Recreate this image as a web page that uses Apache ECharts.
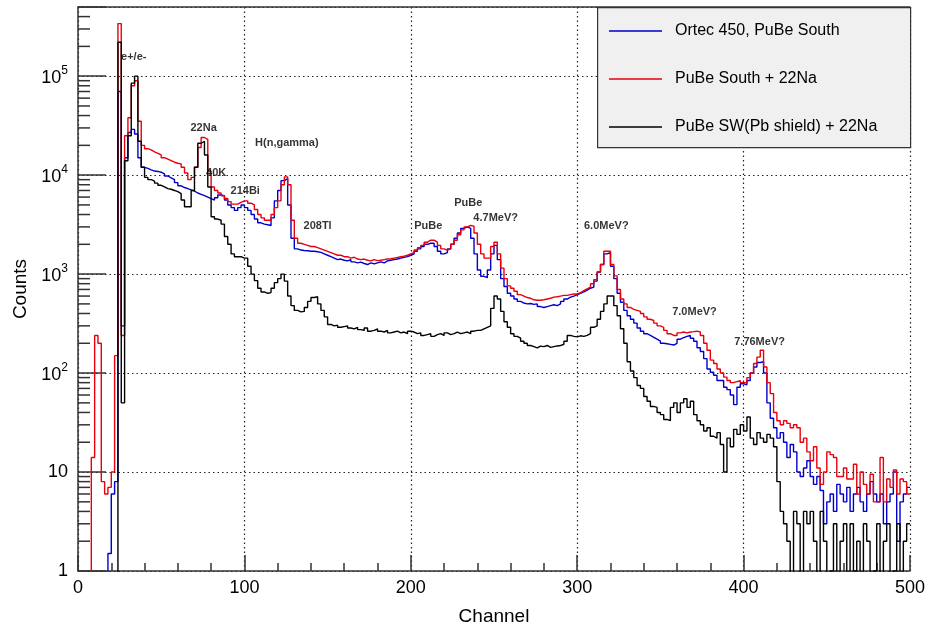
<!DOCTYPE html>
<html>
<head>
<meta charset="utf-8">
<script src="https://cdn.jsdelivr.net/npm/echarts@6/dist/echarts.min.js"></script>
<style>
html, body { margin: 0; padding: 0; background: #fff; }
#chart { width: 927px; height: 624px; }
</style>
</head>
<body>
<div id="chart"></div>
<script>
// histogram bins: 2 channels wide, starting at channel 0
var binWidth = 2;
var seriesNames = ['Ortec 450, PuBe South', 'PuBe South + 22Na', 'PuBe SW(Pb shield) + 22Na'];

var blueCounts = [
	0, 0, 0, 0, 0, 0, 0, 0, 0, 1.5,
	6, 8, 7e4, 300, 1.5e4, 2.7e4, 2.9e4, 2.6e4, 1.5e4, 1.2e4,
	1.17e4, 1.13e4, 1.1e4, 1.09e4, 1.07e4, 1.03e4, 9.8e3, 9.4e3, 9e3, 8.4e3,
	7.8e3, 7.5e3, 7.3e3, 7.1e3, 6.9e3, 6.6e3, 6.4e3, 6.2e3, 6e3, 5.8e3,
	5.6e3, 5.9e3, 6.3e3, 6.2e3, 5.6e3, 5e3, 4.7e3, 4.4e3, 4.7e3, 5e3,
	4.7e3, 4.4e3, 4e3, 3.6e3, 3.3e3, 3.2e3, 3.15e3, 3.1e3, 3.7e3, 5.5e3,
	7e3, 8.8e3, 9.2e3, 5e3, 2.3e3, 1.8e3, 1.75e3, 1.73e3, 1.72e3, 1.7e3,
	1.7e3, 1.68e3, 1.66e3, 1.6e3, 1.55e3, 1.5e3, 1.45e3, 1.4e3, 1.42e3, 1.38e3,
	1.36e3, 1.4e3, 1.33e3, 1.3e3, 1.32e3, 1.28e3, 1.25e3, 1.3e3, 1.27e3, 1.3e3,
	1.33e3, 1.3e3, 1.36e3, 1.38e3, 1.4e3, 1.42e3, 1.45e3, 1.48e3, 1.5e3, 1.55e3,
	1.6e3, 1.7e3, 1.8e3, 1.9e3, 2e3, 2.05e3, 2.05e3, 1.9e3, 1.7e3, 1.6e3,
	1.65e3, 1.8e3, 2e3, 2.3e3, 2.6e3, 2.9e3, 3e3, 2.9e3, 2.3e3, 1.6e3,
	1.1e3, 950, 920, 1.1e3, 1.6e3, 1.95e3, 1.4e3, 900, 750, 640,
	600, 560, 530, 510, 500, 505, 495, 500, 470, 460,
	470, 480, 490, 480, 500, 530, 560, 585, 600, 620,
	640, 660, 690, 720, 740, 850, 1.05e3, 1.25e3, 1.6e3, 1.65e3,
	1.2e3, 900, 640, 520, 430, 380, 350, 320, 285, 265,
	250, 240, 230, 220, 210, 200, 198, 195, 192, 200,
	220, 228, 235, 240, 225, 210, 180, 165, 140, 110,
	102, 95, 84, 84, 72, 68, 60, 48, 72, 78,
	76, 84, 100, 115, 128, 130, 100, 50, 35, 28,
	22, 25, 20, 14, 19, 16, 10, 9, 11, 13,
	9, 7.5, 9, 6.5, 3, 5, 6, 4, 7.5, 6,
	5, 7, 4, 6, 7, 5, 4, 6, 8, 6,
	5, 6, 3, 5, 6, 10, 2, 5, 6, 7
];

var redCounts = [
	0, 0, 0, 0, 14, 240, 200, 8, 6, 7,
	10, 150, 3.4e5, 240, 2.5e4, 3.8e4, 8e4, 9e4, 3.5e4, 2e4,
	1.85e4, 1.8e4, 1.72e4, 1.66e4, 1.6e4, 1.5e4, 1.45e4, 1.4e4, 1.35e4, 1.32e4,
	1.3e4, 1.2e4, 1.05e4, 9e3, 9.5e3, 1.2e4, 1.9e4, 2.4e4, 2.3e4, 1.1e4,
	7.6e3, 7e3, 6.6e3, 6.2e3, 5.8e3, 5.4e3, 5.1e3, 5.1e3, 5.3e3, 5.5e3,
	5.5e3, 5.2e3, 5e3, 4.5e3, 4e3, 3.7e3, 3.5e3, 3.5e3, 4e3, 4.7e3,
	5.5e3, 8e3, 9.6e3, 8e3, 3.5e3, 2.3e3, 2.05e3, 2e3, 1.95e3, 1.9e3,
	1.9e3, 1.85e3, 1.8e3, 1.75e3, 1.7e3, 1.65e3, 1.6e3, 1.55e3, 1.55e3, 1.5e3,
	1.5e3, 1.45e3, 1.48e3, 1.42e3, 1.4e3, 1.42e3, 1.38e3, 1.36e3, 1.4e3, 1.37e3,
	1.38e3, 1.4e3, 1.42e3, 1.43e3, 1.45e3, 1.47e3, 1.5e3, 1.52e3, 1.55e3, 1.6e3,
	1.65e3, 1.75e3, 1.85e3, 1.95e3, 2.1e3, 2.2e3, 2.2e3, 2.1e3, 1.95e3, 1.8e3,
	1.75e3, 1.8e3, 2e3, 2.2e3, 2.5e3, 2.8e3, 3e3, 3.1e3, 3.05e3, 2.6e3,
	2e3, 1.6e3, 1.45e3, 1.45e3, 1.9e3, 2.1e3, 1.6e3, 1.15e3, 900, 760,
	720, 670, 620, 600, 580, 570, 550, 545, 545, 550,
	560, 570, 585, 590, 600, 610, 610, 620, 630, 630,
	650, 680, 710, 740, 800, 880, 1.05e3, 1.25e3, 1.7e3, 1.7e3,
	1.25e3, 960, 700, 560, 500, 460, 440, 430, 420, 400,
	370, 350, 340, 320, 300, 290, 270, 250, 240, 240,
	255, 260, 255, 260, 262, 265, 260, 240, 200, 170,
	135, 125, 110, 100, 91, 84, 80, 82, 84, 80,
	80, 90, 100, 125, 145, 170, 115, 80, 62, 40,
	33, 30, 33, 31, 28, 30, 28, 20, 22, 16,
	13, 18, 11, 7.5, 10, 16, 15, 14, 9, 9,
	11, 8.5, 8.5, 12, 6, 10, 7.5, 6, 9.5, 5,
	5, 14, 5, 8.5, 7, 10.5, 6, 8.5, 8, 6
];

var blackCounts = [
	0, 0, 0, 0, 0, 0, 0, 0, 0, 0,
	0, 0, 2.2e5, 50, 1.4e4, 2.5e4, 8.5e4, 1e5, 2.2e4, 1.2e4,
	9.5e3, 9e3, 8.7e3, 8.3e3, 7.9e3, 7.6e3, 7.3e3, 7.2e3, 7e3, 6.8e3,
	6.5e3, 5.6e3, 4.8e3, 4.8e3, 7e3, 1.2e4, 2.1e4, 2.2e4, 1.6e4, 7.6e3,
	3.8e3, 3.6e3, 3.5e3, 3.2e3, 2.4e3, 2e3, 1.6e3, 1.5e3, 1.5e3, 1.45e3,
	1.45e3, 1.2e3, 1e3, 860, 720, 660, 640, 650, 720, 820,
	900, 1e3, 850, 600, 480, 430, 415, 420, 460, 530,
	580, 590, 500, 430, 370, 310, 300, 305, 290, 295,
	300, 285, 280, 290, 275, 270, 285, 265, 270, 280,
	265, 260, 270, 255, 260, 265, 255, 260, 250, 265,
	260, 250, 255, 240, 245, 250, 235, 245, 250, 240,
	255, 245, 250, 260, 250, 255, 260, 250, 265, 270,
	270, 280, 290, 300, 450, 600, 560, 420, 330, 290,
	250, 235, 225, 210, 200, 190, 185, 180, 187, 185,
	190, 182, 185, 188, 190, 195, 210, 240, 235, 232,
	238, 235, 240, 250, 290, 300, 350, 420, 500, 600,
	600, 480, 380, 280, 200, 130, 105, 90, 75, 70,
	58, 52, 46, 45, 40, 38, 34, 33, 45, 50,
	40, 50, 55, 45, 52, 38, 33, 30, 26, 28,
	23, 22, 25, 19, 10, 22, 18, 27, 24, 30,
	26, 36, 22, 19, 25, 22, 20, 24, 22, 18,
	8, 4, 3, 2, 0, 4, 3, 0, 4, 3,
	4, 2, 0, 4, 2, 0, 1, 3, 0, 2,
	3, 0, 3, 1, 2, 0, 3, 2, 0, 1,
	3, 0, 2, 3, 0, 1, 3, 0, 2, 3
];

// peak annotations: text, channel, counts
var noteTexts = ['e+/e-', '22Na', 'H(n,gamma)', '40K', '214Bi', '208Tl', 'PuBe', 'PuBe', '4.7MeV?', '6.0MeV?', '7.0MeV?', '7.76MeV?'];
var noteChannels = [33.5, 75.5, 125.5, 83, 100.5, 144, 210.5, 234.5, 251, 317.5, 370.5, 409.6];
var noteCounts = [1.55e5, 3.0e4, 2.1e4, 1.06e4, 7.0e3, 3.1e3, 3.1e3, 5.25e3, 3.7e3, 3.1e3, 410, 205];

var fontFamily = '"Liberation Sans", Arial, Helvetica, sans-serif';

// minor ticks of the log axis at 2..9 x 10^k
var yMinorTicks = [];
for (var k = 0; k < 6; k++) {
	for (var m = 2; m <= 9; m++) {
		var t = m * Math.pow(10, k);
		if (t < 5e5) yMinorTicks.push(t);
	}
}

function histData(counts) {
	var d = counts.map(function (v, i) {
		return [i * binWidth, v > 0 ? v : 0.5];
	});
	var last = counts[counts.length - 1];
	d.push([counts.length * binWidth, last > 0 ? last : 0.5]);
	return d;
}

function histSeries(name, counts, color) {
	return {
		name: name,
		type: 'line',
		step: 'end',
		data: histData(counts),
		symbol: 'none',
		showSymbol: false,
		clip: true,
		lineStyle: { color: color, width: 1.4 },
		itemStyle: { color: color },
		animation: false
	};
}

var axisColor = '#333';
var gridDots = { color: '#222', type: [1.5, 3], width: 1.2 };

var chart = echarts.init(document.getElementById('chart'));

var option = {
	backgroundColor: '#fff',
	animation: false,
	grid: { left: 78, right: 17, top: 7, bottom: 53, outerBoundsMode: 'none', containLabel: false },
	graphic: [{
		type: 'rect',
		left: 597, top: 7,
		shape: { width: 313, height: 140 },
		style: { fill: '#f0f0f0', stroke: axisColor, lineWidth: 1.2 },
		z: 50
	}],
	legend: {
		data: seriesNames,
		orient: 'vertical',
		left: 604, top: 17,
		icon: 'rect',
		itemWidth: 53, itemHeight: 1.6,
		itemGap: 30,
		z: 60,
		textStyle: { fontFamily: fontFamily, fontSize: 16, color: '#000', lineHeight: 18, padding: [0, 0, 0, 8] }
	},
	xAxis: [{
		type: 'value',
		min: 0, max: 500, interval: 100,
		name: 'Channel',
		nameLocation: 'middle',
		nameGap: 36,
		nameTextStyle: { fontFamily: fontFamily, fontSize: 19, color: '#000' },
		axisLine: { show: true, onZero: false, lineStyle: { color: axisColor, width: 1.5 } },
		axisTick: { show: true, inside: true, length: 16, lineStyle: { color: axisColor, width: 1.5 } },
		minorTick: { show: true, splitNumber: 5, length: 8, lineStyle: { color: axisColor, width: 1.5 } },
		axisLabel: { fontFamily: fontFamily, fontSize: 18, color: '#000', margin: 8 },
		splitLine: { show: true, lineStyle: gridDots }
	}, {
		type: 'value',
		position: 'top',
		min: 0, max: 500,
		axisLine: { show: true, onZero: false, lineStyle: { color: axisColor, width: 1.5 } },
		axisTick: { show: false },
		axisLabel: { show: false },
		splitLine: { show: false }
	}],
	yAxis: {
		type: 'log',
		logBase: 10,
		min: 1, max: 5e5,
		name: 'Counts',
		nameLocation: 'middle',
		nameGap: 48,
		nameTextStyle: { fontFamily: fontFamily, fontSize: 19, color: '#000' },
		axisLine: { show: true, onZero: false, lineStyle: { color: axisColor, width: 1.5 } },
		axisTick: { show: true, inside: true, length: 28, lineStyle: { color: axisColor, width: 1.5 } },
		axisLabel: {
			fontFamily: fontFamily, fontSize: 18, color: '#000', margin: 10,
			formatter: function (v) {
				var e = Math.round(Math.log(v) / Math.LN10);
				if (Math.abs(v - Math.pow(10, e)) > 1e-6 * v) return '';
				if (e === 0) return '1';
				if (e === 1) return '10';
				return '{b|10}{s|' + e + '}';
			},
			rich: {
				b: { fontFamily: fontFamily, fontSize: 18, color: '#000', lineHeight: 22, verticalAlign: 'bottom' },
				s: { fontFamily: fontFamily, fontSize: 12, color: '#000', lineHeight: 22, verticalAlign: 'top', padding: [0, 0, 6, 0] }
			}
		},
		splitLine: { show: true, lineStyle: gridDots }
	},
	series: [
		histSeries(seriesNames[0], blueCounts, '#0000cc'),
		histSeries(seriesNames[1], redCounts, '#e8000b'),
		histSeries(seriesNames[2], blackCounts, '#000000'),
		{
			// short tick marks for 2..9 x 10^k, placed on the y axis by its own scale
			name: 'minorTicks',
			type: 'scatter',
			silent: true,
			symbol: 'rect',
			symbolSize: [12, 1.5],
			symbolOffset: [6, 0],
			itemStyle: { color: axisColor, opacity: 1 },
			data: yMinorTicks.map(function (v) { return [0, v]; }),
			z: 5
		},
		{
			name: 'notes',
			type: 'scatter',
			silent: true,
			symbolSize: 0,
			data: noteChannels.map(function (c, i) { return [c, noteCounts[i], noteTexts[i]]; }),
			label: {
				show: true,
				position: 'inside',
				fontFamily: fontFamily,
				fontSize: 11,
				fontWeight: 'bold',
				color: '#000',
				formatter: function (p) { return p.data[2]; }
			},
			z: 20
		}
	]
};

chart.setOption(option);
</script>
</body>
</html>
